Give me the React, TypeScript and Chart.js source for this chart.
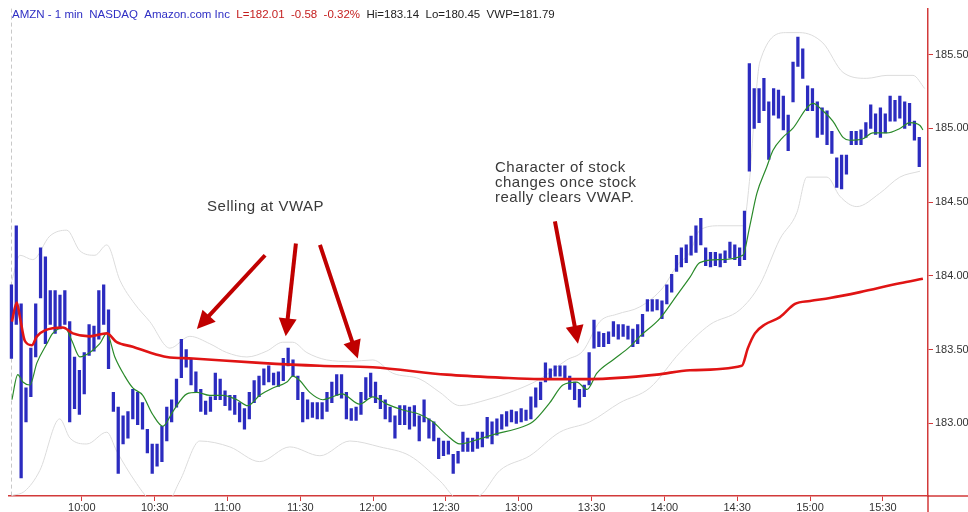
import React, { useEffect, useRef } from "react";
import { Chart, registerables } from "chart.js";

Chart.register(...registerables);

// ---- DATA (x in minutes after 09:30) ----
const firstBarMinute = 1;
const barStepMinutes = 2;

const barHighs = [
  183.94, 184.34, 183.81, 183.24, 183.51, 183.81, 184.19, 184.13, 183.90, 183.90,
  183.87, 183.90, 183.69, 183.45, 183.36, 183.48, 183.67, 183.66, 183.90, 183.94,
  183.77, 183.21, 183.11, 183.05, 183.08, 183.23, 183.21, 183.14, 182.96, 182.86,
  182.86, 182.98, 183.11, 183.16, 183.30, 183.57, 183.50, 183.44, 183.35, 183.23,
  183.15, 183.18, 183.34, 183.30, 183.22, 183.19, 183.19, 183.14, 183.10, 183.21,
  183.29, 183.32, 183.37, 183.39, 183.34, 183.35, 183.44, 183.51, 183.43, 183.32,
  183.21, 183.16, 183.14, 183.14, 183.14, 183.21, 183.28, 183.33, 183.33, 183.21,
  183.10, 183.11, 183.21, 183.31, 183.34, 183.28, 183.19, 183.16, 183.11, 183.05,
  183.12, 183.12, 183.11, 183.12, 183.05, 183.16, 183.03, 183.01, 182.90, 182.88,
  182.88, 182.79, 182.81, 182.94, 182.90, 182.90, 182.94, 182.94, 183.04, 183.01,
  183.03, 183.06, 183.08, 183.09, 183.08, 183.10, 183.09, 183.18, 183.24, 183.28,
  183.41, 183.37, 183.39, 183.39, 183.39, 183.32, 183.28, 183.23, 183.26, 183.48,
  183.70, 183.62, 183.61, 183.62, 183.69, 183.67, 183.67, 183.66, 183.64, 183.67,
  183.74, 183.84, 183.84, 183.84, 183.83, 183.94, 184.01, 184.14, 184.19, 184.21,
  184.27, 184.34, 184.39, 184.19, 184.16, 184.16, 184.15, 184.17, 184.23, 184.21,
  184.19, 184.44, 185.44, 185.27, 185.27, 185.34, 185.18, 185.27, 185.26, 185.22,
  185.09, 185.45, 185.62, 185.54, 185.29, 185.27, 185.18, 185.14, 185.12, 184.98,
  184.80, 184.82, 184.82, 184.98, 184.98, 184.99, 185.04, 185.16, 185.10, 185.14,
  185.10, 185.22, 185.19, 185.22, 185.18, 185.17, 185.05, 184.94,
];

const barLows = [
  183.44, 183.67, 182.63, 183.01, 183.18, 183.45, 183.85, 183.54, 183.67, 183.61,
  183.64, 183.67, 183.01, 183.10, 183.06, 183.20, 183.46, 183.49, 183.57, 183.67,
  183.37, 183.08, 182.66, 182.86, 182.90, 183.03, 182.99, 182.96, 182.80, 182.66,
  182.71, 182.74, 182.88, 183.01, 183.11, 183.31, 183.38, 183.26, 183.21, 183.08,
  183.06, 183.08, 183.16, 183.16, 183.12, 183.09, 183.06, 183.01, 182.96, 183.03,
  183.14, 183.18, 183.26, 183.28, 183.26, 183.25, 183.29, 183.39, 183.32, 183.16,
  183.01, 183.03, 183.04, 183.03, 183.03, 183.08, 183.14, 183.19, 183.17, 183.03,
  183.02, 183.02, 183.06, 183.16, 183.18, 183.14, 183.10, 183.03, 183.01, 182.90,
  182.99, 182.99, 182.96, 182.98, 182.88, 183.01, 182.90, 182.88, 182.76, 182.78,
  182.79, 182.66, 182.73, 182.81, 182.81, 182.81, 182.83, 182.84, 182.90, 182.86,
  182.92, 182.96, 182.98, 183.01, 183.00, 183.01, 183.02, 183.03, 183.11, 183.16,
  183.28, 183.30, 183.32, 183.32, 183.31, 183.23, 183.16, 183.11, 183.18, 183.26,
  183.51, 183.52, 183.52, 183.54, 183.59, 183.57, 183.59, 183.57, 183.52, 183.54,
  183.59, 183.76, 183.76, 183.77, 183.71, 183.81, 183.89, 184.03, 184.06, 184.09,
  184.14, 184.16, 184.21, 184.07, 184.06, 184.07, 184.06, 184.09, 184.12, 184.11,
  184.07, 184.11, 184.71, 185.00, 185.04, 185.12, 184.79, 185.09, 185.07, 184.99,
  184.85, 185.18, 185.42, 185.34, 185.12, 185.12, 184.94, 184.96, 184.89, 184.83,
  184.60, 184.59, 184.69, 184.89, 184.89, 184.89, 184.94, 185.00, 184.96, 184.94,
  184.97, 185.05, 185.05, 185.07, 185.00, 185.02, 184.92, 184.74,
];

const maMinutes = [
  1.2, 3.6, 5.7, 8.6, 11.5, 15.6, 18.0, 23.0, 25.9, 29.2, 33.3, 37.4, 40.3, 43.6,
  47.7, 51.0, 55.1, 59.2, 63.4, 67.5, 73.3, 77.4, 82.7, 88.1, 93.9, 98.4, 103.3,
  108.7, 114.5, 116.9, 119.8, 123.9, 129.3, 133.4, 137.1, 144.5, 149.9, 155.7,
  162.3, 169.3, 174.6, 180.4, 185.7, 191.1, 196.9, 201.0, 208.4, 215.8, 222.8,
  228.2, 233.9, 238.1, 242.2, 248.8, 255.8, 259.9, 268.1, 275.2, 280.5, 284.6,
  292.9, 302.3, 305.2, 308.1, 312.2, 314.7, 318.8, 322.9, 328.7, 331.2, 335.3,
  339.4, 343.6, 346.4, 351.8, 355.9, 361.7, 367.0, 371.2, 375.3, 376.5,
];
const maValues = [
  183.16, 183.33, 183.28, 183.26, 183.41, 183.54, 183.61, 183.65, 183.56, 183.45,
  183.48, 183.54, 183.61, 183.45, 183.32, 183.24, 183.19, 183.06, 182.98, 183.08,
  183.20, 183.21, 183.19, 183.19, 183.16, 183.12, 183.19, 183.24, 183.28, 183.32,
  183.29, 183.21, 183.16, 183.18, 183.20, 183.13, 183.18, 183.13, 183.09, 183.06,
  183.01, 182.92, 182.86, 182.88, 182.91, 182.93, 182.96, 183.01, 183.14, 183.26,
  183.28, 183.23, 183.34, 183.43, 183.52, 183.59, 183.71, 183.87, 183.99, 184.09,
  184.11, 184.14, 184.34, 184.56, 184.74, 184.85, 184.94, 185.00, 185.14, 185.17,
  185.12, 185.05, 184.94, 184.92, 184.93, 184.97, 184.97, 185.00, 185.04, 185.02,
  184.99,
];

const vwapMinutes = [
  1.2, 3.2, 4.5, 6.5, 9.4, 11.5, 14.8, 22.2, 26.3, 33.3, 40.3, 44.4, 51.0, 58.0,
  65.0, 75.7, 103.3, 128.1, 149.9, 180.4, 202.2, 218.7, 239.3, 266.9, 280.5,
  301.9, 304.4, 307.3, 311.4, 317.6, 323.8, 330.0, 338.2, 350.6, 367.0, 376.5,
];
const vwapValues = [
  183.69, 183.82, 183.72, 183.56, 183.53, 183.59, 183.63, 183.65, 183.61, 183.59,
  183.61, 183.55, 183.52, 183.48, 183.45, 183.44, 183.41, 183.39, 183.38, 183.33,
  183.31, 183.30, 183.30, 183.33, 183.36, 183.39, 183.51, 183.61, 183.67, 183.72,
  183.81, 183.83, 183.85, 183.89, 183.95, 183.98,
];

const upperMinutes = [
  1.2, 4.5, 9.8, 16.8, 23.8, 29.2, 35.4, 40.3, 45.7, 51.8, 58.0, 66.3, 74.5, 82.7,
  89.7, 98.0, 106.2, 112.8, 116.9, 122.7, 130.9, 140.4, 149.9, 158.1, 169.3,
  177.5, 185.7, 196.9, 206.4, 218.7, 229.8, 236.4, 243.4, 250.4, 259.9, 269.4,
  275.2, 280.5, 284.6, 292.9, 302.3, 305.2, 307.3, 309.3, 320.5, 325.8, 335.3,
  343.6, 353.4, 361.7, 372.4, 377.3,
];
const upperValues = [
  183.97, 184.14, 184.11, 184.27, 184.31, 184.17, 184.14, 184.21, 183.97, 183.81,
  183.69, 183.51, 183.59, 183.54, 183.48, 183.45, 183.49, 183.55, 183.55, 183.48,
  183.43, 183.42, 183.43, 183.34, 183.30, 183.21, 183.12, 183.16, 183.21, 183.30,
  183.43, 183.49, 183.69, 183.74, 183.79, 183.92, 184.07, 184.16, 184.31, 184.34,
  184.34, 184.67, 185.14, 185.45, 185.65, 185.65, 185.58, 185.38, 185.34, 185.36,
  185.36, 185.27,
];

const lowerMinutes = [
  1.2, 6.5, 12.7, 20.9, 25.1, 32.1, 40.3, 44.4, 51.8, 58.0, 64.2, 70.4, 78.6, 91.0,
  103.3, 115.7, 128.1, 140.4, 152.8, 165.1, 177.5, 185.7, 194.0, 202.2, 214.6,
  226.9, 239.3, 251.7, 264.0, 276.4, 288.8, 301.1, 309.3, 317.6, 324.6, 328.7,
  337.0, 342.3, 349.3, 358.7, 367.0, 375.3,
];
const lowerValues = [
  182.51, 182.54, 182.68, 183.03, 182.90, 182.86, 182.94, 182.81, 182.61, 182.48,
  182.44, 182.61, 182.88, 182.84, 182.74, 182.84, 182.78, 182.88, 182.84, 182.78,
  182.61, 182.48, 182.51, 182.68, 182.78, 182.94, 183.01, 183.14, 183.24, 183.48,
  183.67, 183.77, 183.94, 184.25, 184.43, 184.67, 184.67, 184.54, 184.47, 184.56,
  184.67, 184.71,
];

const xTickMinutes = [30, 60, 90, 120, 150, 180, 210, 240, 270, 300, 330, 360];
const xTickLabels = [
  "10:00", "10:30", "11:00", "11:30", "12:00", "12:30",
  "13:00", "13:30", "14:00", "14:30", "15:00", "15:30",
];
const yTickValues = [183.0, 183.5, 184.0, 184.5, 185.0, 185.5];

const headerParts = [
  { text: "AMZN - 1 min  NASDAQ  Amazon.com Inc", color: "#2f2fc4" },
  { text: "  L=182.01  -0.58  -0.32%", color: "#c41e1e" },
  { text: "  Hi=183.14  Lo=180.45  VWP=181.79", color: "#222222" },
];

// arrows: [tailMinute, tailPrice, tipMinute, tipPrice]
const arrowSegments = [
  [105.5, 184.14, 77.4, 183.64],
  [118.2, 184.22, 114.0, 183.59],
  [128.1, 184.21, 143.7, 183.44],
  [224.9, 184.37, 234.4, 183.54],
];
const noteTexts = [
  { text: "Selling at VWAP", minute: 81.6, price: 184.47 },
  { text: "Character of stock", minute: 200.2, price: 184.73 },
  { text: "changes once stock", minute: 200.2, price: 184.63 },
  { text: "really clears VWAP.", minute: 200.2, price: 184.53 },
];

const FONT = '"Liberation Sans", Arial, sans-serif';
const AXIS_RED = "#d23a3a";

const overlayPlugin = {
  id: "overlay",
  beforeDatasetsDraw(chart: any) {
    const { ctx, chartArea, scales } = chart;
    const x = scales.x.getPixelForValue(firstBarMinute);
    ctx.save();
    ctx.strokeStyle = "#c8c8c8";
    ctx.lineWidth = 1;
    ctx.setLineDash([4, 3]);
    ctx.beginPath();
    ctx.moveTo(Math.round(x) + 0.5, chartArea.top);
    ctx.lineTo(Math.round(x) + 0.5, chartArea.bottom);
    ctx.stroke();
    ctx.restore();
  },
  afterDatasetsDraw(chart: any) {
    const { ctx, scales } = chart;
    const xs = scales.x;
    const ys = scales.y;
    ctx.save();
    ctx.strokeStyle = "#c00000";
    ctx.fillStyle = "#c00000";
    ctx.lineWidth = 4;
    for (const [m0, p0, m1, p1] of arrowSegments) {
      const x0 = xs.getPixelForValue(m0);
      const y0 = ys.getPixelForValue(p0);
      const x1 = xs.getPixelForValue(m1);
      const y1 = ys.getPixelForValue(p1);
      const ang = Math.atan2(y1 - y0, x1 - x0);
      const head = 18;
      const half = 9;
      const bx = x1 - head * Math.cos(ang);
      const by = y1 - head * Math.sin(ang);
      ctx.beginPath();
      ctx.moveTo(x0, y0);
      ctx.lineTo(bx + 2 * Math.cos(ang), by + 2 * Math.sin(ang));
      ctx.stroke();
      ctx.beginPath();
      ctx.moveTo(x1, y1);
      ctx.lineTo(bx + half * Math.sin(ang), by - half * Math.cos(ang));
      ctx.lineTo(bx - half * Math.sin(ang), by + half * Math.cos(ang));
      ctx.closePath();
      ctx.fill();
    }
    ctx.fillStyle = "#3a3a3a";
    ctx.font = `15px ${FONT}`;
    (ctx as any).letterSpacing = "0.5px";
    ctx.textBaseline = "middle";
    ctx.textAlign = "left";
    for (const n of noteTexts) {
      ctx.fillText(n.text, xs.getPixelForValue(n.minute), ys.getPixelForValue(n.price));
    }
    ctx.restore();
  },
  afterDraw(chart: any) {
    const { ctx, chartArea, width, height } = chart;
    ctx.save();
    // axis lines run on to the canvas edges
    ctx.strokeStyle = AXIS_RED;
    ctx.lineWidth = 1.5;
    ctx.beginPath();
    ctx.moveTo(chartArea.right, chartArea.bottom);
    ctx.lineTo(chartArea.right, height);
    ctx.moveTo(chartArea.right, chartArea.bottom);
    ctx.lineTo(width, chartArea.bottom);
    ctx.stroke();

    ctx.font = `11.5px ${FONT}`;
    ctx.textBaseline = "middle";
    ctx.textAlign = "left";
    let x = 12;
    for (const part of headerParts) {
      ctx.fillStyle = part.color;
      ctx.fillText(part.text, x, 15);
      x += ctx.measureText(part.text).width;
    }
    ctx.restore();
  },
};

export default function App() {
  const canvasRef = useRef<HTMLCanvasElement | null>(null);

  useEffect(() => {
    document.body.style.margin = "0";
    const canvas = canvasRef.current;
    if (!canvas) return;

    const barData = barHighs.map((h, i) => ({
      x: firstBarMinute + barStepMinutes * i,
      y: [barLows[i], h],
    }));
    const toPts = (ms: number[], vs: number[]) => ms.map((m, i) => ({ x: m, y: vs[i] }));

    const chart = new Chart(canvas, {
      type: "bar",
      data: {
        datasets: [
          {
            type: "line",
            label: "VWAP",
            data: toPts(vwapMinutes, vwapValues),
            borderColor: "#e01414",
            borderWidth: 2.6,
            pointRadius: 0,
            cubicInterpolationMode: "monotone",
            order: 0,
          } as any,
          {
            type: "line",
            label: "MA",
            data: toPts(maMinutes, maValues),
            borderColor: "#2a8a2a",
            borderWidth: 1.2,
            pointRadius: 0,
            cubicInterpolationMode: "monotone",
            order: 1,
          } as any,
          {
            type: "bar",
            label: "AMZN",
            data: barData,
            backgroundColor: "#2b2bbf",
            borderWidth: 0,
            barThickness: 2.6,
            order: 2,
          } as any,
          {
            type: "line",
            label: "Upper",
            data: toPts(upperMinutes, upperValues),
            borderColor: "#dcdcdc",
            borderWidth: 1,
            pointRadius: 0,
            cubicInterpolationMode: "monotone",
            order: 3,
          } as any,
          {
            type: "line",
            label: "Lower",
            data: toPts(lowerMinutes, lowerValues),
            borderColor: "#dcdcdc",
            borderWidth: 1,
            pointRadius: 0,
            cubicInterpolationMode: "monotone",
            order: 3,
          } as any,
        ],
      },
      options: {
        responsive: false,
        animation: false,
        devicePixelRatio: 1,
        layout: { padding: { left: 9, top: 0, right: 0, bottom: 0 } },
        plugins: {
          legend: { display: false },
          tooltip: { enabled: false },
          title: { display: false },
        },
        scales: {
          x: {
            type: "linear",
            min: 0,
            max: 378.6,
            offset: false,
            afterBuildTicks: (axis: any) => {
              axis.ticks = xTickMinutes.map((v) => ({ value: v }));
            },
            afterFit: (axis: any) => {
              axis.height = 16;
            },
            ticks: {
              autoSkip: false,
              maxRotation: 0,
              padding: 0,
              color: "#333333",
              font: { family: FONT, size: 11 },
              callback: (_v: any, i: number) => xTickLabels[i],
            },
            grid: {
              offset: false,
              drawOnChartArea: false,
              drawTicks: true,
              tickLength: 5,
              color: AXIS_RED,
            },
            border: { display: true, color: AXIS_RED, width: 1.5 },
          },
          y: {
            type: "linear",
            position: "right",
            min: 182.507,
            max: 185.813,
            afterBuildTicks: (axis: any) => {
              axis.ticks = yTickValues.map((v) => ({ value: v }));
            },
            afterFit: (axis: any) => {
              axis.width = 40;
            },
            ticks: {
              padding: 2,
              color: "#333333",
              font: { family: FONT, size: 11 },
              callback: (v: any) => Number(v).toFixed(2),
            },
            grid: {
              drawOnChartArea: false,
              drawTicks: true,
              tickLength: 5,
              color: AXIS_RED,
            },
            border: { display: true, color: AXIS_RED, width: 1.5 },
          },
        },
      } as any,
      plugins: [overlayPlugin],
    });

    return () => chart.destroy();
  }, []);

  return (
    <div style={{ width: 968, height: 512, position: "relative", background: "#ffffff" }}>
      <canvas ref={canvasRef} width={968} height={512} style={{ display: "block" }} />
    </div>
  );
}
